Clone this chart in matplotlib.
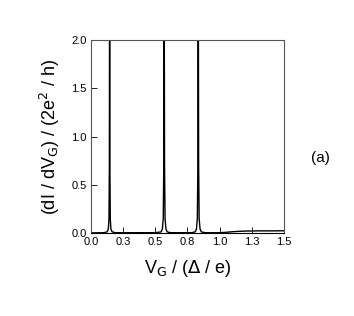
import matplotlib
matplotlib.use("Agg")
import matplotlib.pyplot as plt

plt.rcParams['font.family'] = ['Liberation Sans', 'DejaVu Sans']

# Kurvenpunkte (Peaks werden oben bei 2.0 abgeschnitten)
x_vals = [0.00, 0.10, 0.125, 0.135, 0.140, 0.143, 0.145, 0.147, 0.150, 0.155, 0.165, 0.19,
          0.50, 0.545, 0.555, 0.562, 0.566, 0.569, 0.572, 0.576, 0.583, 0.593, 0.62,
          0.78, 0.81, 0.820, 0.827, 0.831, 0.834, 0.837, 0.841, 0.848, 0.858, 0.89,
          1.00, 1.05, 1.10, 1.15, 1.20, 1.25, 1.30, 1.40, 1.50]
y_vals = [0.000, 0.002, 0.010, 0.040, 0.150, 0.700, 3.000, 0.700, 0.150, 0.040, 0.010, 0.002,
          0.002, 0.010, 0.040, 0.150, 0.700, 3.000, 0.700, 0.150, 0.040, 0.010, 0.002,
          0.002, 0.010, 0.040, 0.150, 0.700, 3.000, 0.700, 0.150, 0.040, 0.010, 0.002,
          0.002, 0.006, 0.012, 0.016, 0.019, 0.020, 0.021, 0.021, 0.022]

x_ticks = [0.0, 0.25, 0.5, 0.75, 1.0, 1.25, 1.5]
x_labels = ['0.0', '0.3', '0.5', '0.8', '1.0', '1.3', '1.5']
y_ticks = [0.0, 0.5, 1.0, 1.5, 2.0]
y_labels = ['0.0', '0.5', '1.0', '1.5', '2.0']

fig = plt.figure(figsize=(3.54, 3.16), dpi=100)
ax = fig.add_axes([0.257, 0.263, 0.545, 0.61])

ax.plot(x_vals, y_vals, color='black', lw=1.0)

ax.set_xlim(0.0, 1.5)
ax.set_ylim(0.0, 2.0)
ax.set_xticks(x_ticks)
ax.set_xticklabels(x_labels)
ax.set_yticks(y_ticks)
ax.set_yticklabels(y_labels)
ax.tick_params(direction='in', length=4, width=0.6, labelsize=8, colors='black', pad=3)

for s in ax.spines.values():
    s.set_linewidth(0.8)
    s.set_color('#555555')
ax.spines['bottom'].set_color('black')

ax.set_xlabel(r'V$_\mathrm{G}$ / ($\Delta$ / e)', fontsize=13, labelpad=8)
ax.set_ylabel(r'(dI / dV$_\mathrm{G}$) / (2e$^2$ / h)', fontsize=13, labelpad=7)

fig.text(0.905, 0.50, '(a)', fontsize=11, ha='center', va='center')

fig.savefig('out.png', dpi=100)
